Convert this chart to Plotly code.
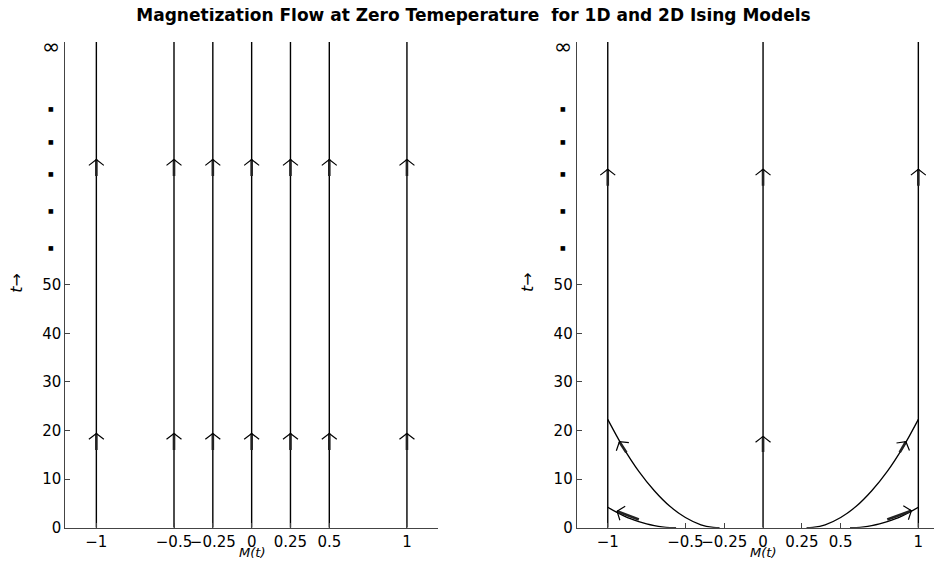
import math
import plotly.graph_objects as go

# ---------------- data ----------------
left_lines_M = [-1, -0.5, -0.25, 0, 0.25, 0.5, 1]
right_lines_M = [-1, 0, 1]
t_top = 100

x_tickvals = [-1, -0.5, -0.25, 0, 0.25, 0.5, 1]
x_ticktext = ["\u22121", "\u22120.5", "\u22120.25", "0", "0.25", "0.5", "1"]
y_tickvals = [0, 10, 20, 30, 40, 50]
y_ticktext = ["0", "10", "20", "30", "40", "50"]
dot_t = [57.6, 65.4, 72.9, 79.6, 86.4]
inf_t = 99

# curves (2D model)
big_left_M = [-1.0, -0.9, -0.8, -0.7, -0.6, -0.5, -0.4, -0.32, -0.28]
big_left_t = [22.3, 16.5, 11.6, 7.6, 4.4, 2.1, 0.6, 0.07, 0.0]
small_left_M = [-1.0, -0.95, -0.9, -0.85, -0.8, -0.75, -0.7, -0.65, -0.6, -0.56]
small_left_t = [4.2, 3.3, 2.5, 1.8, 1.25, 0.78, 0.43, 0.18, 0.03, 0.0]
big_right_M = [0.28, 0.32, 0.4, 0.5, 0.6, 0.7, 0.8, 0.9, 1.0]
big_right_t = [0.0, 0.07, 0.6, 2.1, 4.4, 7.6, 11.6, 16.5, 22.3]
small_right_M = [0.56, 0.6, 0.65, 0.7, 0.75, 0.8, 0.85, 0.9, 0.95, 1.0]
small_right_t = [0.0, 0.03, 0.18, 0.43, 0.78, 1.25, 1.8, 2.5, 3.3, 4.2]

# arrows: (tail M, tail t, tip M, tip t)
left_arrows = ([(m, 16.0, m, 19.4) for m in left_lines_M]
               + [(m, 72.4, m, 75.8) for m in left_lines_M])
right_arrows = ([(m, 70.4, m, 73.8) for m in right_lines_M]
                + [(0, 15.6, 0, 18.8),
                   (-0.88, 15.5, -0.925, 17.7),
                   (-0.80, 1.7, -0.94, 3.4),
                   (0.88, 15.5, 0.92, 17.7),
                   (0.80, 1.7, 0.955, 3.5)])

# ---------------- layout geometry ----------------
W, H = 942, 562
OFF = 8  # page body margin
LX0, LX1 = 65.3 - OFF, 438.0 - OFF
RX0, RX1 = 576.7 - OFF, 942.0 - OFF
YT, YB = 42.0 - OFF, 527.7 - OFF
x_lo = -1.2
sx = (LX1 - LX0) / 2.4
x_hi_left = 1.2
x_hi_right = x_lo + (RX1 - RX0) / sx
sy = (YB - YT) / t_top

FONT = "DejaVu Sans"

fig = go.Figure()


def add_lines(xa, ya, Ms):
    xs, ys = [], []
    for m in Ms:
        xs += [m, m, None]
        ys += [0, t_top, None]
    fig.add_trace(go.Scatter(x=xs, y=ys, mode="lines", xaxis=xa, yaxis=ya,
                             line=dict(color="black", width=1.4),
                             hoverinfo="skip", showlegend=False))


def add_curve(xa, ya, M, t):
    fig.add_trace(go.Scatter(x=M, y=t, mode="lines", xaxis=xa, yaxis=ya,
                             line=dict(color="black", width=1.3, shape="spline"),
                             hoverinfo="skip", showlegend=False))


def add_arrows(xa, ya, arrows):
    sx_, sy_ = [], []
    wx, wy = [], []
    L = 9.5
    th = math.radians(52)
    for (m0, t0, m1, t1) in arrows:
        sx_ += [m0, m1, None]
        sy_ += [t0, t1, None]
        dx = (m1 - m0) * sx
        dy = (t1 - t0) * sy
        n = math.hypot(dx, dy)
        bx, by = -dx / n, -dy / n
        pts = []
        for s in (1, -1):
            c, si = math.cos(s * th), math.sin(s * th)
            rx = bx * c - by * si
            ry = bx * si + by * c
            pts.append((m1 + rx * L / sx, t1 + ry * L / sy))
        wx += [pts[0][0], m1, pts[1][0], None]
        wy += [pts[0][1], t1, pts[1][1], None]
    fig.add_trace(go.Scatter(x=sx_, y=sy_, mode="lines", xaxis=xa, yaxis=ya,
                             line=dict(color="#222", width=2.6),
                             hoverinfo="skip", showlegend=False))
    fig.add_trace(go.Scatter(x=wx, y=wy, mode="lines", xaxis=xa, yaxis=ya,
                             line=dict(color="black", width=1.2),
                             hoverinfo="skip", showlegend=False))


add_lines("x", "y", left_lines_M)
add_arrows("x", "y", left_arrows)

add_lines("x2", "y2", right_lines_M)
add_curve("x2", "y2", big_left_M, big_left_t)
add_curve("x2", "y2", small_left_M, small_left_t)
add_curve("x2", "y2", big_right_M, big_right_t)
add_curve("x2", "y2", small_right_M, small_right_t)
add_arrows("x2", "y2", right_arrows)

ydom = [1 - YB / H, 1 - YT / H]
axis_common = dict(showgrid=False, zeroline=False, showline=True, automargin=False,
                   linecolor="#444", linewidth=1, ticks="inside", ticklen=5,
                   tickcolor="#444", tickangle=0,
                   tickfont=dict(family=FONT, size=15, color="black"))

fig.update_layout(
    width=W, height=H,
    margin=dict(l=0, r=0, t=0, b=0, pad=0, autoexpand=False),
    paper_bgcolor="white", plot_bgcolor="white",
    showlegend=False,
    xaxis=dict(domain=[LX0 / W, LX1 / W], range=[x_lo, x_hi_left],
               tickvals=x_tickvals, ticktext=x_ticktext, anchor="y", **axis_common),
    yaxis=dict(domain=ydom, range=[0, t_top], tickvals=y_tickvals,
               ticktext=y_ticktext, anchor="x", **axis_common),
    xaxis2=dict(domain=[RX0 / W, RX1 / W], range=[x_lo, x_hi_right],
                tickvals=x_tickvals, ticktext=x_ticktext, anchor="y2", **axis_common),
    yaxis2=dict(domain=ydom, range=[0, t_top], tickvals=y_tickvals,
                ticktext=y_ticktext, anchor="x2", **axis_common),
    title=dict(text="<b>Magnetization Flow at Zero Temeperature \u00a0for 1D and 2D Ising Models</b>",
               x=(473.5 - OFF) / W, xanchor="center", y=1 - (15.5 - OFF) / H, yanchor="middle",
               font=dict(family=FONT, size=17, color="black")),
)

ann = []
for xa, ya in (("x", "y"), ("x2", "y2")):
    for t in dot_t:
        ann.append(dict(text="\u25a0", xref=xa + " domain", yref=ya, x=0, y=t,
                        xanchor="center", yanchor="middle", xshift=-14, showarrow=False,
                        font=dict(family=FONT, size=6, color="black")))
    ann.append(dict(text="\u221e", xref=xa + " domain", yref=ya, x=0, y=inf_t,
                    xanchor="right", yanchor="middle", xshift=-3, showarrow=False,
                    font=dict(family=FONT, size=22, color="black")))
    ann.append(dict(text="<i>t</i>\u2192", xref=xa + " domain", yref=ya, x=0, y=50.5,
                    xanchor="center", yanchor="middle", xshift=-49, textangle=-90,
                    showarrow=False, font=dict(family=FONT, size=16, color="black")))
    ann.append(dict(text="<i>M(t)</i>", xref=xa, yref="paper", x=0, y=1 - (552.5 - OFF) / H,
                    xanchor="center", yanchor="middle", showarrow=False,
                    font=dict(family=FONT, size=13, color="black")))
fig.update_layout(annotations=ann)

fig.write_html("out.html")
